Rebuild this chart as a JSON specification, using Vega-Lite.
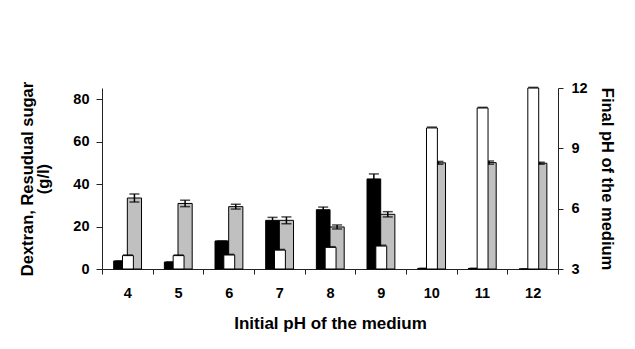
{
  "$schema": "https://vega.github.io/schema/vega-lite/v6.json",
  "autosize": "none",
  "width": 456,
  "height": 181,
  "padding": {"left": 102, "top": 88, "right": 77, "bottom": 80},
  "background": "white",
  "config": {
    "view": {"stroke": null},
    "font": "Liberation Sans",
    "axis": {
      "labelFont": "Liberation Sans", "labelFontWeight": "bold", "labelFontSize": 14.5, "labelColor": "#000",
      "titleFont": "Liberation Sans", "titleFontWeight": "bold", "titleFontSize": 16.5, "titleColor": "#000",
      "domainColor": "#222", "tickColor": "#222", "grid": false
    }
  },
  "data": {
    "values": [
      {"pH": 4, "dextran": 3.8, "dextran_sd": 0, "sugar": 6.3, "sugar_sd": 0.3, "final_pH": 6.53, "final_pH_sd": 0.2},
      {"pH": 5, "dextran": 3.3, "dextran_sd": 0, "sugar": 6.3, "sugar_sd": 0.3, "final_pH": 6.26, "final_pH_sd": 0.16},
      {"pH": 6, "dextran": 13.2, "dextran_sd": 0, "sugar": 6.6, "sugar_sd": 0.3, "final_pH": 6.1, "final_pH_sd": 0.12},
      {"pH": 7, "dextran": 22.9, "dextran_sd": 1.4, "sugar": 8.9, "sugar_sd": 0.3, "final_pH": 5.42, "final_pH_sd": 0.17},
      {"pH": 8, "dextran": 27.9, "dextran_sd": 1.25, "sugar": 10.2, "sugar_sd": 0.3, "final_pH": 5.09, "final_pH_sd": 0.1},
      {"pH": 9, "dextran": 42.4, "dextran_sd": 2.35, "sugar": 10.8, "sugar_sd": 0.4, "final_pH": 5.72, "final_pH_sd": 0.13},
      {"pH": 10, "dextran": 0.3, "dextran_sd": 0, "sugar": 66.4, "sugar_sd": 0.4, "final_pH": 8.28, "final_pH_sd": 0.07},
      {"pH": 11, "dextran": 0.3, "dextran_sd": 0, "sugar": 75.8, "sugar_sd": 0.3, "final_pH": 8.29, "final_pH_sd": 0.08},
      {"pH": 12, "dextran": 0, "dextran_sd": 0, "sugar": 85.2, "sugar_sd": 0.3, "final_pH": 8.26, "final_pH_sd": 0.05}
    ]
  },
  "transform": [
    {"calculate": "datum.dextran - datum.dextran_sd", "as": "dextran_lo"},
    {"calculate": "datum.dextran + datum.dextran_sd", "as": "dextran_hi"},
    {"calculate": "datum.sugar - datum.sugar_sd", "as": "sugar_lo"},
    {"calculate": "datum.sugar + datum.sugar_sd", "as": "sugar_hi"},
    {"calculate": "datum.final_pH - datum.final_pH_sd", "as": "final_lo"},
    {"calculate": "datum.final_pH + datum.final_pH_sd", "as": "final_hi"}
  ],
  "encoding": {
    "x": {
      "field": "pH", "type": "ordinal",
      "scale": {"domain": [4, 5, 6, 7, 8, 9, 10, 11, 12], "paddingInner": 0, "paddingOuter": 0},
      "axis": {
        "title": "Initial pH of the medium", "labelAngle": 0, "tickBand": "extent",
        "tickSize": 5, "labelPadding": 12, "titlePadding": 16, "titleFontSize": 17
      }
    }
  },
  "layer": [
    {
      "layer": [
        {
          "mark": {"type": "bar", "width": {"band": 0.27}, "xOffset": -6.8, "fill": "#000", "stroke": "#000", "strokeWidth": 1},
          "encoding": {
            "y": {
              "field": "dextran", "type": "quantitative",
              "scale": {"domain": [0, 85.2], "nice": false, "zero": true},
              "axis": {
                "title": ["Dextran, Resudual sugar", "(g/l)"], "values": [0, 20, 40, 60, 80],
                "tickSize": 6, "labelPadding": 7, "titlePadding": 21, "titleLineHeight": 16
              }
            }
          }
        },
        {
          "mark": {"type": "rule", "xOffset": -6.8, "color": "#000", "strokeWidth": 1.5},
          "encoding": {"y": {"field": "dextran_lo", "type": "quantitative"}, "y2": {"field": "dextran_hi"}}
        },
        {
          "mark": {"type": "tick", "xOffset": -6.8, "color": "#000", "size": 10, "thickness": 1.5},
          "encoding": {"y": {"field": "dextran_hi", "type": "quantitative"}}
        }
      ]
    },
    {
      "layer": [
        {
          "mark": {"type": "bar", "width": {"band": 0.28}, "xOffset": 7.1, "fill": "#c0c0c0", "stroke": "#000", "strokeWidth": 1},
          "encoding": {
            "y": {
              "field": "final_pH", "type": "quantitative",
              "scale": {"domain": [3, 12], "nice": false, "zero": false},
              "axis": {
                "title": "Final pH of the medium", "orient": "right", "values": [3, 6, 9, 12],
                "tickSize": 5, "labelPadding": 8, "titlePadding": 11
              }
            },
            "y2": {"datum": 3}
          }
        },
        {
          "mark": {"type": "rule", "xOffset": 7.1, "color": "#000", "strokeWidth": 1.5},
          "encoding": {"y": {"field": "final_lo", "type": "quantitative"}, "y2": {"field": "final_hi"}}
        },
        {
          "mark": {"type": "tick", "xOffset": 7.1, "color": "#000", "size": 10, "thickness": 1.5},
          "encoding": {"y": {"field": "final_lo", "type": "quantitative"}}
        },
        {
          "mark": {"type": "tick", "xOffset": 7.1, "color": "#000", "size": 10, "thickness": 1.5},
          "encoding": {"y": {"field": "final_hi", "type": "quantitative"}}
        }
      ]
    },
    {
      "layer": [
        {
          "mark": {"type": "bar", "width": {"band": 0.215}, "xOffset": 0.6, "fill": "#fff", "stroke": "#000", "strokeWidth": 1},
          "encoding": {
            "y": {
              "field": "sugar", "type": "quantitative",
              "scale": {"domain": [0, 85.2], "nice": false, "zero": true},
              "axis": null
            }
          }
        },
        {
          "mark": {"type": "tick", "xOffset": 0.6, "color": "#000", "size": 10, "thickness": 1.5},
          "encoding": {"y": {"field": "sugar_hi", "type": "quantitative"}}
        }
      ]
    }
  ],
  "resolve": {"scale": {"y": "independent"}, "axis": {"y": "independent"}}
}
